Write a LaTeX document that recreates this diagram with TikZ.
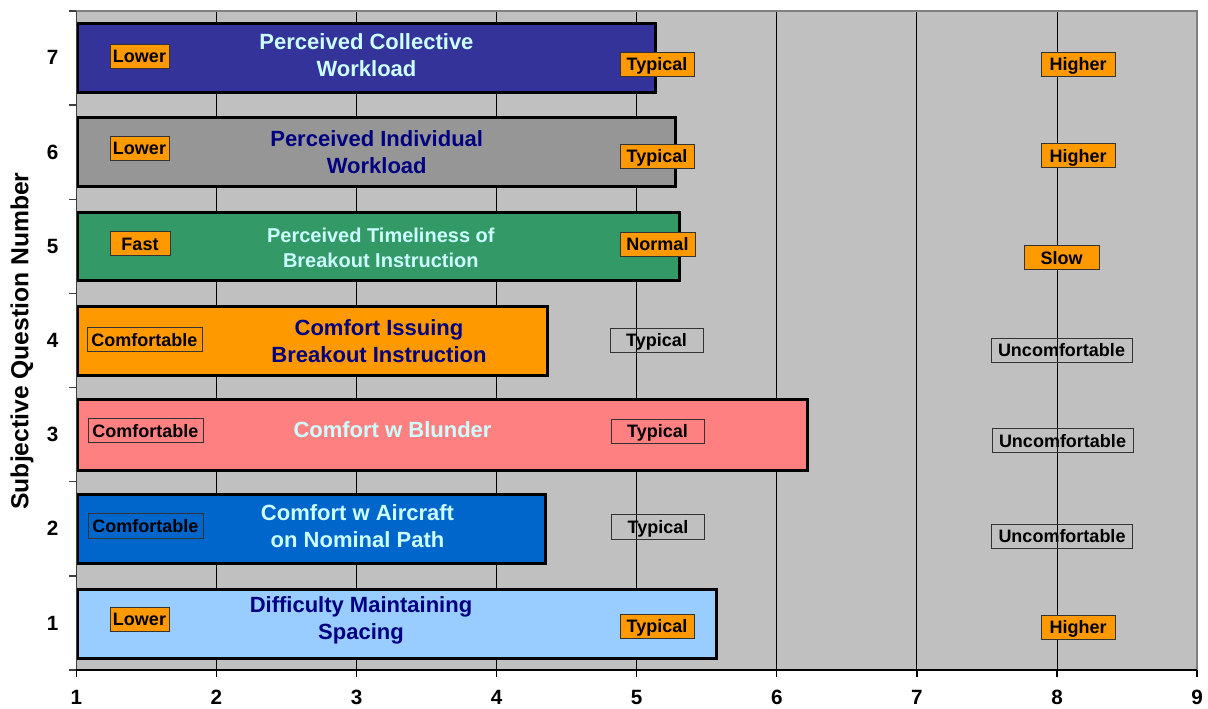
\documentclass[tikz,border=0pt]{standalone}
\usepackage{fontspec}
\setmainfont{Liberation Sans}
\definecolor{plotbg}{HTML}{C0C0C0}
\definecolor{barA}{HTML}{99CCFF}
\definecolor{barB}{HTML}{0066CC}
\definecolor{barC}{HTML}{FF8080}
\definecolor{barD}{HTML}{FF9900}
\definecolor{barE}{HTML}{339966}
\definecolor{barF}{HTML}{969696}
\definecolor{barG}{HTML}{333399}
\definecolor{lcyan}{HTML}{CCFFFF}
\definecolor{navyblue}{HTML}{000080}
\definecolor{labfill}{HTML}{FF9900}
\begin{document}
\begin{tikzpicture}[x=0.75pt,y=-0.75pt,
  barbox/.style={draw=black,line width=2.25pt},
  bartitle/.style={font=\fontsize{16.5}{20.25}\selectfont\bfseries,align=center},
  smalltitle/.style={font=\fontsize{15}{18.75}\selectfont\bfseries,align=center},
  labbase/.style={draw=black!80,line width=0.75pt,font=\fontsize{13.5}{15}\selectfont\bfseries,
    text height=11pt,text depth=1.3pt,inner ysep=2.85pt,inner xsep=0pt,text=black},
  olab/.style={labbase,fill=labfill},
  tlab/.style={labbase},
  ticklab/.style={font=\fontsize{15.5}{18}\selectfont\bfseries},
  axtitle/.style={font=\fontsize{18.5}{22}\selectfont\bfseries,rotate=90}
]
\useasboundingbox (0,0) rectangle (1208,709);
% plot background
\fill[plotbg] (76.3,11) rectangle (1197,670);
% gridlines
\foreach \v in {2,...,8}{
  \draw[black,line width=0.75pt] ({76.3+140.1*(\v-1)},11) -- ({76.3+140.1*(\v-1)},670);
}
% plot frame top/right
\draw[black!50,line width=1.5pt] (76.3,11) -- (1197,11) -- (1197,670);
% bars
\draw[barbox,fill=barG] (77.5,23.2) rectangle (655.2,92.8);
\draw[barbox,fill=barF] (77.5,117.3) rectangle (675.2,186.9);
\draw[barbox,fill=barE] (77.5,212.2) rectangle (679.2,280.8);
\draw[barbox,fill=barD] (77.5,306.5) rectangle (547.5,375.2);
\draw[barbox,fill=barC] (77.5,399.8) rectangle (807.8,470.2);
\draw[barbox,fill=barB] (77.5,494.5) rectangle (545.5,563.5);
\draw[barbox,fill=barA] (77.5,589.2) rectangle (716.8,658.5);
% axes
\draw[black!75,line width=1pt] (76.3,11) -- (76.3,670);
\draw[black,line width=1.5pt] (76.3,670) -- (1197,670);
\foreach \k in {0,...,7}{
  \draw[black!75,line width=1pt] (69,{11+94.14*\k}) -- (76.3,{11+94.14*\k});
}
\foreach \v in {1,...,9}{
  \draw[black,line width=1pt] ({76.3+140.1*(\v-1)},670) -- ({76.3+140.1*(\v-1)},677);
  \node[ticklab] (x\v) at ({76.3+140.1*(\v-1)},697) {\v};
}
\foreach \q/\yy in {7/57.5,6/152,5/246.5,4/340.5,3/434.5,2/528.5,1/623}{
  \node[ticklab] (y\q) at (52.5,\yy) {\q};
}
\node[axtitle] (ytitle) at (22,341) {Subjective Question Number};
% bar titles
\node[bartitle,text=lcyan] (t7) at (366.5,55.5) {Perceived Collective\\Workload};
\node[bartitle,text=navyblue] (t6) at (376.7,151.7) {Perceived Individual\\Workload};
\node[smalltitle,text=lcyan] (t5) at (380.8,247.5) {Perceived Timeliness of\\Breakout Instruction};
\node[bartitle,text=navyblue] (t4) at (379,341) {Comfort Issuing\\Breakout Instruction};
\node[bartitle,text=lcyan] (t3) at (392.5,430) {Comfort w Blunder};
\node[bartitle,text=lcyan] (t2) at (357.5,526.5) {Comfort w Aircraft\\on Nominal Path};
\node[bartitle,text=navyblue] (t1) at (361,620.5) {Difficulty Maintaining\\Spacing};
% row 7
\node[olab,minimum width=44.25pt] (l7a) at (139.5,56.5) {Lower};
\node[olab,minimum width=55.5pt] (l7b) at (657,64.5) {Typical};
\node[olab,minimum width=55.5pt] (l7c) at (1078,64.5) {Higher};
% row 6
\node[olab,minimum width=44.25pt] (l6a) at (139.5,148.5) {Lower};
\node[olab,minimum width=55.5pt] (l6b) at (657,156.5) {Typical};
\node[olab,minimum width=55.5pt] (l6c) at (1078,156) {Higher};
% row 5
\node[olab,minimum width=45pt] (l5a) at (140,244) {Fast};
\node[olab,minimum width=56.25pt] (l5b) at (657.5,244.5) {Normal};
\node[olab,minimum width=56.25pt] (l5c) at (1061.5,258) {Slow};
% row 4
\node[olab,minimum width=86.25pt] (l4a) at (144.5,340) {Comfortable};
\node[tlab,minimum width=69.75pt] (l4b) at (656.5,340.5) {Typical};
\node[tlab,minimum width=105.75pt] (l4c) at (1061.5,350.5) {Uncomfortable};
% row 3
\node[tlab,minimum width=86.25pt] (l3a) at (145.5,431) {Comfortable};
\node[tlab,minimum width=69.75pt] (l3b) at (657.5,431.5) {Typical};
\node[tlab,minimum width=105.75pt] (l3c) at (1062.5,441) {Uncomfortable};
% row 2
\node[tlab,minimum width=86.25pt] (l2a) at (145.5,526) {Comfortable};
\node[tlab,minimum width=69.75pt] (l2b) at (658,527) {Typical};
\node[tlab,minimum width=105.75pt] (l2c) at (1062,536.5) {Uncomfortable};
% row 1
\node[olab,minimum width=44.25pt] (l1a) at (139.5,619) {Lower};
\node[olab,minimum width=55.5pt] (l1b) at (657,626.5) {Typical};
\node[olab,minimum width=55.5pt] (l1c) at (1078,627) {Higher};
\end{tikzpicture}
\end{document}
